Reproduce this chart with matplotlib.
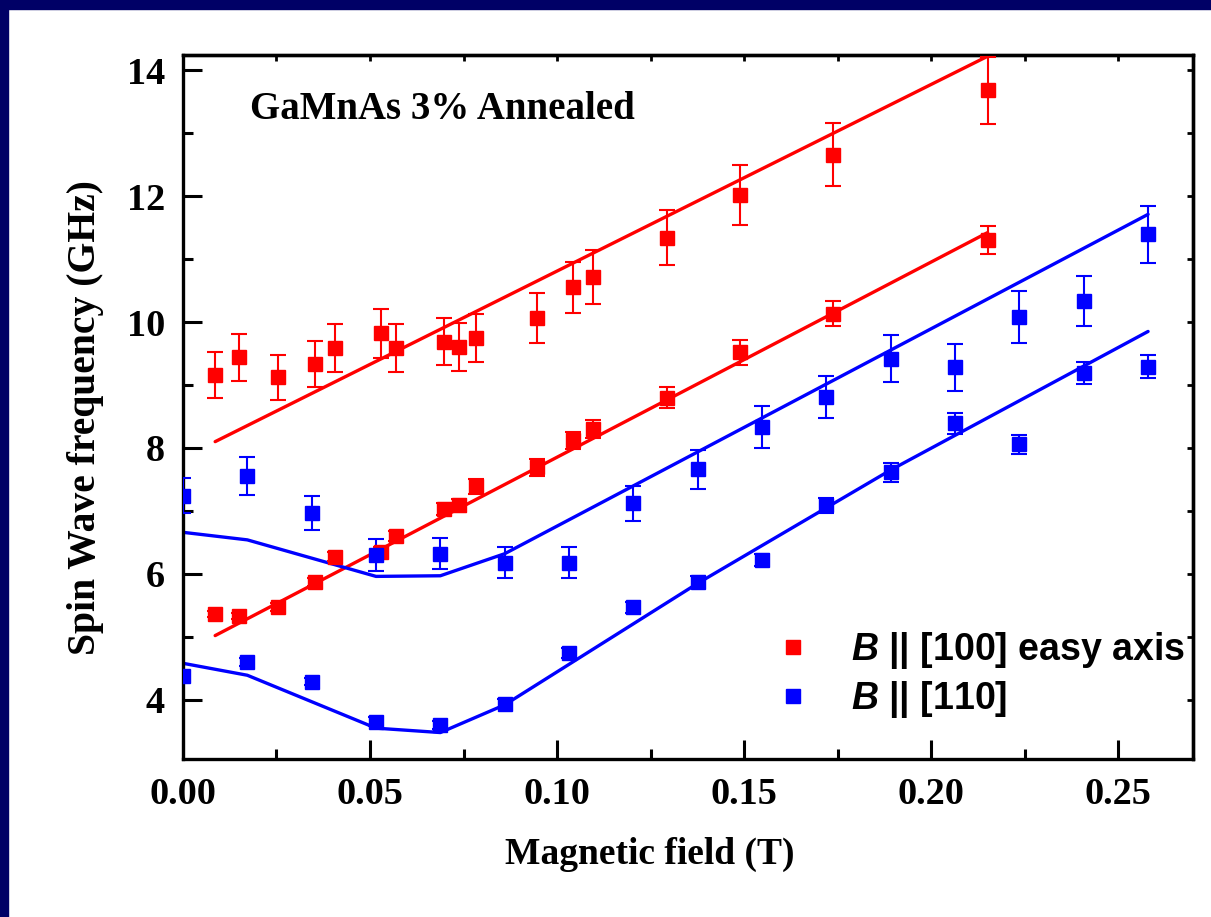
import numpy as np
import matplotlib
matplotlib.use("Agg")
import matplotlib.pyplot as plt
from matplotlib.lines import Line2D
from matplotlib.patches import Rectangle
from matplotlib.ticker import MultipleLocator, FormatStrFormatter

plt.rcParams['font.family'] = 'Liberation Serif'
plt.rcParams['font.weight'] = 'bold'
plt.rcParams['mathtext.fontset'] = 'custom'
plt.rcParams['mathtext.it'] = 'Liberation Sans:italic:bold'
plt.rcParams['mathtext.rm'] = 'Liberation Sans:bold'

# B || [100] (easy axis): two modes measured at the same fields
field_100 = [0.0086, 0.0149, 0.0253, 0.0353, 0.0407, 0.0529, 0.0570, 0.0697, 0.0738,
             0.0784, 0.0947, 0.1042, 0.1097, 0.1293, 0.1490, 0.1739, 0.2151]
freq_100_hi = [9.16, 9.44, 9.12, 9.33, 9.59, 9.82, 9.59, 9.69, 9.60,
               9.74, 10.06, 10.55, 10.72, 11.34, 12.02, 12.66, 13.68]
err_100_hi = [0.37, 0.37, 0.36, 0.37, 0.38, 0.39, 0.38, 0.38, 0.38,
              0.38, 0.40, 0.41, 0.43, 0.44, 0.48, 0.50, 0.53]
freq_100_lo = [5.36, 5.33, 5.47, 5.87, 6.27, 6.34, 6.60, 7.03, 7.09,
               7.39, 7.69, 8.12, 8.30, 8.80, 9.52, 10.13, 11.30]
err_100_lo = [0.05, 0.05, 0.06, 0.06, 0.07, 0.08, 0.08, 0.10, 0.10,
              0.12, 0.13, 0.14, 0.15, 0.16, 0.20, 0.20, 0.22]

# B || [110]
field_110 = [0.0000, 0.0172, 0.0344, 0.0516, 0.0688, 0.0860, 0.1032, 0.1204,
             0.1376, 0.1548, 0.1720, 0.1892, 0.2064, 0.2236, 0.2408, 0.2580]
freq_110_hi = [7.24, 7.56, 6.96, 6.30, 6.32, 6.18, 6.18, 7.12,
               7.66, 8.33, 8.81, 9.42, 9.28, 10.08, 10.33, 11.39]
err_110_hi = [0.28, 0.30, 0.27, 0.25, 0.25, 0.25, 0.25, 0.28,
              0.31, 0.33, 0.33, 0.38, 0.37, 0.41, 0.40, 0.45]
freq_110_lo = [4.38, 4.60, 4.29, 3.65, 3.60, 3.94, 4.74, 5.47,
               5.87, 6.22, 7.09, 7.61, 8.39, 8.06, 9.19, 9.29]
err_110_lo = [0.05, 0.06, 0.06, 0.07, 0.07, 0.07, 0.08, 0.09,
              0.10, 0.10, 0.12, 0.15, 0.17, 0.15, 0.18, 0.18]

# model curves
fit_100_x = [0.0086, 0.2151]
fit_100_hi = [8.10, 14.22]
fit_100_lo = [5.02, 11.42]
fit_110_hi_x = [0.0, 0.0172, 0.0516, 0.0688, 0.0860, 0.2580]
fit_110_hi = [6.66, 6.54, 5.96, 5.97, 6.32, 11.71]
fit_110_lo_x = [0.0, 0.0172, 0.0344, 0.0516, 0.0688, 0.0860, 0.1376, 0.1892, 0.2580]
fit_110_lo = [4.58, 4.39, 3.97, 3.55, 3.48, 3.92, 5.85, 7.65, 9.85]

RED = '#ff0000'
BLUE = '#0000ff'

fig = plt.figure(figsize=(12.11, 9.17), dpi=100)
fig.patch.set_facecolor('white')
# dark frame strips on the left and top edges
fig.patches.append(Rectangle((0, 0), 0.0066, 1, transform=fig.transFigure, color='#000066', zorder=0))
fig.patches.append(Rectangle((0, 0.9902), 1, 0.0098, transform=fig.transFigure, color='#000066', zorder=0))

ax = fig.add_axes([0.1511, 0.1723, 0.8340, 0.7677])

for fx, fy, c in [(fit_100_x, fit_100_hi, RED), (fit_100_x, fit_100_lo, RED),
                  (fit_110_hi_x, fit_110_hi, BLUE), (fit_110_lo_x, fit_110_lo, BLUE)]:
    ax.plot(fx, fy, color=c, lw=2.4, solid_capstyle='round', zorder=2)

eb = dict(fmt='s', ms=10, elinewidth=1.5, capsize=6, capthick=1.5, zorder=3)
ax.errorbar(field_100, freq_100_hi, yerr=err_100_hi, color=RED, **eb)
ax.errorbar(field_100, freq_100_lo, yerr=err_100_lo, color=RED, **eb)
ax.errorbar(field_110, freq_110_hi, yerr=err_110_hi, color=BLUE, **eb)
ax.errorbar(field_110, freq_110_lo, yerr=err_110_lo, color=BLUE, **eb)

ax.set_xlim(0, 0.27)
ax.set_ylim(3.06, 14.24)
ax.xaxis.set_major_locator(MultipleLocator(0.05))
ax.xaxis.set_minor_locator(MultipleLocator(0.025))
ax.xaxis.set_major_formatter(FormatStrFormatter('%.2f'))
ax.yaxis.set_major_locator(MultipleLocator(2))
ax.yaxis.set_minor_locator(MultipleLocator(1))
ax.tick_params(which='major', direction='in', length=13.5, width=2.2, labelsize=27.5, pad=13)
ax.tick_params(which='minor', direction='in', length=7, width=2.2)
for s in ax.spines.values():
    s.set_linewidth(2.4)

# short ticks along the top and right edges
top = ax.secondary_xaxis('top')
top.set_xticks(np.arange(0, 0.2701, 0.025))
top.tick_params(direction='in', length=4, width=2, labeltop=False)
top.spines['top'].set_linewidth(2.4)
right = ax.secondary_yaxis('right')
right.set_yticks(np.arange(4, 14.1, 1))
right.tick_params(direction='in', length=4, width=2, labelright=False)
right.spines['right'].set_linewidth(2.4)

ax.set_xlabel('Magnetic field (T)', fontsize=27, fontweight='bold')
ax.set_ylabel('Spin Wave frequency (GHz)', fontsize=28.5, fontweight='bold')
ax.xaxis.set_label_coords(0.462, -0.136)
ax.xaxis.label.set_va('center')
ax.yaxis.set_label_coords(-0.097, 0.485)
ax.yaxis.label.set_va('center')

ax.text(0.066, 0.923, 'GaMnAs 3% Annealed', transform=ax.transAxes,
        fontsize=28, fontweight='bold', va='center', ha='left')

handles = [Line2D([], [], ls='none', marker='s', ms=10, color=RED),
           Line2D([], [], ls='none', marker='s', ms=10, color=BLUE)]
labels = [r'$\it{B}$ || [100] easy axis', r'$\it{B}$ || [110]']
ax.legend(handles, labels, loc='upper left', bbox_to_anchor=(0.585, 0.183),
          frameon=False, handlelength=1.0, handletextpad=1.05, borderpad=0,
          borderaxespad=0, labelspacing=0.22,
          prop={'family': 'Liberation Sans', 'weight': 'bold', 'size': 27})

fig.savefig('out.png', dpi=100)
